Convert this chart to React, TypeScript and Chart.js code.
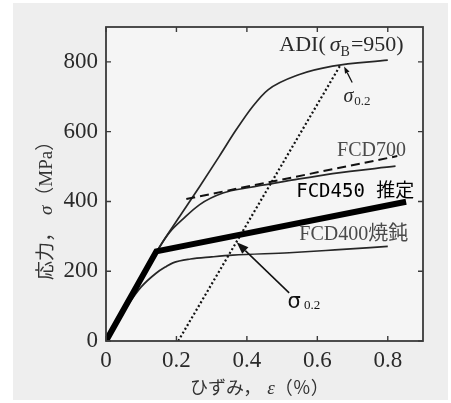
import React, { useEffect, useRef } from "react";
import { Chart, registerables } from "chart.js";

Chart.register(...registerables);

// ---- data (strain %, stress MPa) ----
const xTickValues = [0, 0.2, 0.4, 0.6, 0.8];
const yTickValues = [0, 200, 400, 600, 800];

const adiStrain = [0, 0.153, 0.209, 0.266, 0.322, 0.37, 0.417, 0.46, 0.549, 0.643, 0.8];
const adiStress = [0, 271, 357, 443, 530, 606, 673, 720, 764, 788, 805];

const fcd700Strain = [0, 0.153, 0.181, 0.219, 0.266, 0.332, 0.407, 0.511, 0.643, 0.822];
const fcd700Stress = [0, 271, 312, 350, 391, 424, 440, 458, 480, 501];

const fcd700LineStrain = [0.228, 0.827];
const fcd700LineStress = [407, 530];

const fcd450Strain = [0, 0.143, 0.852];
const fcd450Stress = [0, 257, 399];

const fcd400Strain = [0, 0.06, 0.1, 0.143, 0.17, 0.19, 0.24, 0.3, 0.36, 0.52, 0.65, 0.8];
const fcd400Stress = [0, 100, 155, 195, 213, 224, 235, 241, 246, 253, 261, 271];

const offsetStrain = [0.205, 0.665];
const offsetStress = [0, 790];

const SERIF = '"Liberation Serif", "DejaVu Serif", serif';
const CJK = '"Noto Sans CJK JP", sans-serif';

type Seg = { t: string; font: string; dx?: number; dy?: number; color?: string };

function drawRich(ctx: CanvasRenderingContext2D, x: number, y: number, segs: Seg[], color: string) {
  let cx = x;
  for (const s of segs) {
    ctx.font = s.font;
    cx += s.dx || 0;
    ctx.fillStyle = s.color || color;
    ctx.fillText(s.t, cx, y + (s.dy || 0));
    cx += ctx.measureText(s.t).width;
  }
}

function drawArrow(
  ctx: CanvasRenderingContext2D,
  x1: number, y1: number, x2: number, y2: number,
  headLen: number, headW: number, lw: number
) {
  const ang = Math.atan2(y2 - y1, x2 - x1);
  const bx = x2 - Math.cos(ang) * headLen;
  const by = y2 - Math.sin(ang) * headLen;
  ctx.strokeStyle = "#111";
  ctx.lineWidth = lw;
  ctx.beginPath();
  ctx.moveTo(x1, y1);
  ctx.lineTo(bx, by);
  ctx.stroke();
  ctx.fillStyle = "#111";
  ctx.beginPath();
  ctx.moveTo(x2, y2);
  ctx.lineTo(bx + Math.sin(ang) * headW / 2, by - Math.cos(ang) * headW / 2);
  ctx.lineTo(bx - Math.sin(ang) * headW / 2, by + Math.cos(ang) * headW / 2);
  ctx.closePath();
  ctx.fill();
}

const bgPlugin = {
  id: "bg",
  beforeDraw(chart: any) {
    const { ctx, chartArea: a } = chart;
    ctx.save();
    ctx.fillStyle = "#ffffff";
    ctx.fillRect(0, 0, chart.width, chart.height);
    ctx.fillStyle = "#eeeeee";
    ctx.fillRect(13, 3, 435, 397);
    ctx.fillStyle = "#f5f5f5";
    ctx.fillRect(a.left, a.top, a.right - a.left, a.bottom - a.top);
    ctx.restore();
  },
};

const framePlugin = {
  id: "frame",
  afterDraw(chart: any) {
    const { ctx, chartArea: a, scales } = chart;
    const xs = scales.x;
    const ys = scales.y;
    ctx.save();
    ctx.strokeStyle = "#3a3a3a";
    ctx.lineWidth = 1.8;
    ctx.strokeRect(a.left, a.top, a.right - a.left, a.bottom - a.top);
    ctx.lineWidth = 1.4;
    const L = 5;
    ctx.beginPath();
    for (const v of xTickValues) {
      const px = xs.getPixelForValue(v);
      ctx.moveTo(px, a.bottom);
      ctx.lineTo(px, a.bottom - L);
      ctx.moveTo(px, a.top);
      ctx.lineTo(px, a.top + L);
    }
    for (const v of yTickValues) {
      const py = ys.getPixelForValue(v);
      ctx.moveTo(a.left, py);
      ctx.lineTo(a.left + L, py);
      ctx.moveTo(a.right, py);
      ctx.lineTo(a.right - L, py);
    }
    ctx.stroke();

    // axis titles
    ctx.textBaseline = "alphabetic";
    drawRich(ctx, 190, 394, [
      { t: "ひずみ，", font: `18px ${CJK}` },
      { t: "ε", font: `italic 19px ${SERIF}`, dx: 6 },
      { t: "（％）", font: `18px ${CJK}` },
    ], "#333");

    ctx.translate(52, 280);
    ctx.rotate(-Math.PI / 2);
    drawRich(ctx, 0, 0, [
      { t: "応力，", font: `19px ${CJK}` },
      { t: "σ", font: `italic 19px ${SERIF}`, dx: 8 },
      { t: "（", font: `19px ${CJK}` },
      { t: "MPa", font: `19px ${SERIF}` },
      { t: "）", font: `19px ${CJK}` },
    ], "#333");
    ctx.restore();
  },
};

const notesPlugin = {
  id: "notes",
  afterDatasetsDraw(chart: any) {
    const { ctx, scales } = chart;
    const X = (v: number) => scales.x.getPixelForValue(v);
    const Y = (v: number) => scales.y.getPixelForValue(v);
    ctx.save();
    ctx.textBaseline = "alphabetic";

    drawRich(ctx, X(0.492), Y(830), [
      { t: "ADI(", font: `22px ${SERIF}` },
      { t: "σ", font: `italic 22px ${SERIF}`, dx: 4 },
      { t: "B", font: `14px ${SERIF}`, dy: 5 },
      { t: "=950)", font: `22px ${SERIF}`, dx: 1 },
    ], "#2a2a2a");

    drawRich(ctx, X(0.674), Y(684), [
      { t: "σ", font: `italic 20px ${SERIF}` },
      { t: "0.2", font: `13px ${SERIF}`, dx: 1, dy: 3 },
    ], "#2a2a2a");
    drawArrow(ctx, X(0.699), Y(741), X(0.676), Y(787), 7, 5, 1.3);

    drawRich(ctx, X(0.656), Y(529), [{ t: "FCD700", font: `20px ${SERIF}` }], "#4a4a4a");

    drawRich(ctx, X(0.54), Y(414), [
      { t: "FCD450 ", font: `19px "DejaVu Sans Mono", monospace` },
      { t: "推定", font: `19px ${CJK}` },
    ], "#000");

    drawRich(ctx, X(0.549), Y(290), [
      { t: "FCD400", font: `20px ${SERIF}` },
      { t: "焼鈍", font: `20px ${CJK}` },
    ], "#4a4a4a");

    drawRich(ctx, X(0.515), Y(95), [
      { t: "σ", font: `21px "DejaVu Sans", sans-serif` },
      { t: " 0.2", font: `13px ${SERIF}`, dy: 1 },
    ], "#111");
    drawArrow(ctx, X(0.52), Y(138), X(0.371), Y(283), 12, 9, 1.5);

    ctx.restore();
  },
};

const pts = (xs: number[], ys: number[]) => xs.map((x, i) => ({ x, y: ys[i] }));

export default function App() {
  const ref = useRef<HTMLCanvasElement>(null);

  useEffect(() => {
    if (!ref.current) return;
    const thin = {
      borderColor: "#262626",
      borderWidth: 1.7,
      pointRadius: 0,
      fill: false,
      cubicInterpolationMode: "monotone" as const,
    };
    const chart = new Chart(ref.current, {
      type: "line",
      data: {
        datasets: [
          {
            label: "FCD450 推定",
            data: pts(fcd450Strain, fcd450Stress),
            borderColor: "#000",
            borderWidth: 6,
            pointRadius: 0,
            tension: 0,
            borderJoinStyle: "miter",
            order: 0,
          },
          {
            label: "0.2% offset",
            data: pts(offsetStrain, offsetStress),
            borderColor: "#111",
            borderWidth: 2.2,
            borderDash: [2, 2.4],
            pointRadius: 0,
            tension: 0,
            order: 1,
          },
          {
            label: "FCD700 line",
            data: pts(fcd700LineStrain, fcd700LineStress),
            borderColor: "#111",
            borderWidth: 2,
            borderDash: [9, 5],
            pointRadius: 0,
            tension: 0,
            order: 2,
          },
          { label: "ADI", data: pts(adiStrain, adiStress), ...thin, order: 3 },
          { label: "FCD700", data: pts(fcd700Strain, fcd700Stress), ...thin, order: 4 },
          { label: "FCD400 焼鈍", data: pts(fcd400Strain, fcd400Stress), ...thin, order: 5 },
        ],
      },
      options: {
        animation: false,
        responsive: false,
        devicePixelRatio: 1,
        layout: { padding: { left: 0, top: 27, right: 28, bottom: 0 } },
        plugins: { legend: { display: false }, tooltip: { enabled: false } },
        scales: {
          x: {
            type: "linear",
            min: 0,
            max: 0.9,
            afterBuildTicks: (s: any) => {
              s.ticks = xTickValues.map((v) => ({ value: v }));
            },
            afterFit: (s: any) => {
              s.height = 62;
            },
            grid: { display: false, drawTicks: false },
            border: { display: false },
            ticks: {
              padding: 6,
              color: "#2a2a2a",
              font: { family: "Liberation Serif", size: 23 },
              callback: (v: any) => (v === 0 ? "0" : Number(v).toFixed(1)),
            },
          },
          y: {
            type: "linear",
            min: 0,
            max: 900,
            afterBuildTicks: (s: any) => {
              s.ticks = yTickValues.map((v) => ({ value: v }));
            },
            afterFit: (s: any) => {
              s.width = 106;
            },
            grid: { display: false, drawTicks: false },
            border: { display: false },
            ticks: {
              padding: 8,
              color: "#2a2a2a",
              font: { family: "Liberation Serif", size: 23 },
              callback: (v: any) => String(v),
            },
          },
        },
      },
      plugins: [bgPlugin, framePlugin, notesPlugin],
    } as any);
    return () => chart.destroy();
  }, []);

  return (
    <div style={{ position: "fixed", left: 0, top: 0, width: 451, height: 403 }}>
      <canvas ref={ref} width={451} height={403} style={{ display: "block", width: 451, height: 403 }} />
    </div>
  );
}
